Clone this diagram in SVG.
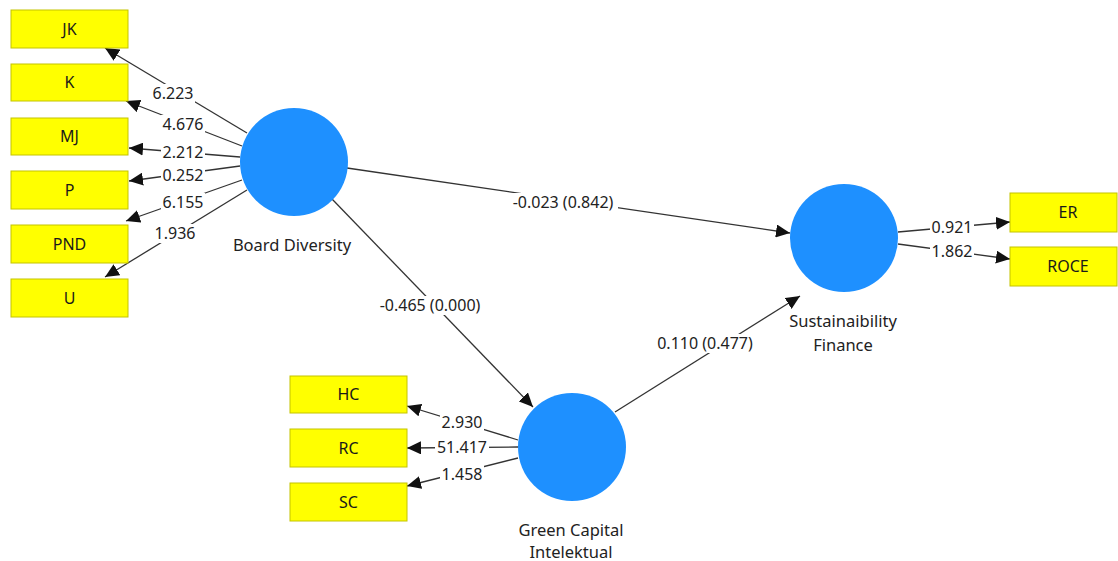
<svg xmlns="http://www.w3.org/2000/svg" width="1118" height="561" viewBox="0 0 1118 561">
<style>
.box{fill:#FFFF00;stroke:#C4C400;stroke-width:1}
.bt{font-family:"Noto Sans","Liberation Sans",sans-serif;font-size:16px;fill:#1a1a1a;text-anchor:middle}
.lv{fill:#1E90FF}
.nl{font-family:"Noto Sans","Liberation Sans",sans-serif;font-size:16.5px;fill:#222;text-anchor:middle}
.c{stroke:#333;stroke-width:1.3;fill:none;marker-end:url(#ah)}
.el{font-family:"Noto Sans","Liberation Sans",sans-serif;font-size:16px;fill:#222;text-anchor:middle}
.bg{fill:#fff}
</style>
<defs>
<marker id="ah" markerUnits="userSpaceOnUse" markerWidth="15" markerHeight="13" refX="14" refY="6.5" orient="auto">
<path d="M0,0 L14,6.5 L0,13 z" fill="#111"/>
</marker>
</defs>
<rect width="1118" height="561" fill="#fff"/>
<g id="connectors">
<path class="c" d="M247,133 L105,48"/>
<path class="c" d="M242,146 L126,101"/>
<path class="c" d="M240,157 L129,148"/>
<path class="c" d="M240,166 L129,181"/>
<path class="c" d="M242,180 L126,221"/>
<path class="c" d="M247,190 L105,277"/>
<path class="c" d="M347,168 L790,233"/>
<path class="c" d="M332,199 L533,407"/>
<path class="c" d="M615,412 L800,296"/>
<path class="c" d="M898,232 L1010,222"/>
<path class="c" d="M898,244 L1010,259"/>
<path class="c" d="M518,440 L407,406"/>
<path class="c" d="M518,447 L407,448"/>
<path class="c" d="M518,458 L407,486"/>
</g>
<g id="edge-labels">
<rect class="bg" x="151" y="84" width="44" height="19"/><text class="el" x="173" y="99">6.223</text>
<rect class="bg" x="161" y="115" width="44" height="18"/><text class="el" x="183" y="130">4.676</text>
<rect class="bg" x="161" y="143" width="44" height="18"/><text class="el" x="183" y="158">2.212</text>
<rect class="bg" x="161" y="166" width="44" height="18"/><text class="el" x="183" y="181">0.252</text>
<rect class="bg" x="161" y="193" width="44" height="18"/><text class="el" x="183" y="208">6.155</text>
<rect class="bg" x="153" y="224" width="44" height="19"/><text class="el" x="175" y="239">1.936</text>
<rect class="bg" x="508" y="193" width="110" height="19"/><text class="el" x="563" y="208">-0.023 (0.842)</text>
<rect class="bg" x="375" y="296" width="110" height="19"/><text class="el" x="430" y="311">-0.465 (0.000)</text>
<rect class="bg" x="653" y="334" width="104" height="19"/><text class="el" x="705" y="349">0.110 (0.477)</text>
<rect class="bg" x="930" y="218" width="44" height="18"/><text class="el" x="952" y="233">0.921</text>
<rect class="bg" x="930" y="242" width="44" height="18"/><text class="el" x="952" y="257">1.862</text>
<rect class="bg" x="440" y="413" width="44" height="18"/><text class="el" x="462" y="428">2.930</text>
<rect class="bg" x="435" y="438" width="54" height="18"/><text class="el" x="462" y="453">51.417</text>
<rect class="bg" x="440" y="465" width="44" height="18"/><text class="el" x="462" y="480">1.458</text>
</g>
<g id="node-BD"><circle class="lv" cx="294" cy="162" r="54"/><text class="nl" x="292" y="251">Board Diversity</text></g>
<g id="node-SF"><circle class="lv" cx="844" cy="238" r="54"/><text class="nl" x="843" y="327">Sustainaibility</text><text class="nl" x="843" y="351">Finance</text></g>
<g id="node-GCI"><circle class="lv" cx="572" cy="447" r="54"/><text class="nl" x="571" y="536">Green Capital</text><text class="nl" x="571" y="558">Intelektual</text></g>
<g id="node-JK"><rect class="box" x="11" y="10" width="117" height="38"/><text class="bt" x="69.5" y="35">JK</text></g>
<g id="node-K"><rect class="box" x="11" y="64" width="117" height="37"/><text class="bt" x="69.5" y="88">K</text></g>
<g id="node-MJ"><rect class="box" x="11" y="118" width="117" height="37"/><text class="bt" x="69.5" y="142">MJ</text></g>
<g id="node-P"><rect class="box" x="11" y="171" width="117" height="38"/><text class="bt" x="69.5" y="196">P</text></g>
<g id="node-PND"><rect class="box" x="11" y="225" width="117" height="38"/><text class="bt" x="69.5" y="250">PND</text></g>
<g id="node-U"><rect class="box" x="11" y="279" width="117" height="38"/><text class="bt" x="69.5" y="304">U</text></g>
<g id="node-HC"><rect class="box" x="290" y="376" width="117" height="37"/><text class="bt" x="348.5" y="400">HC</text></g>
<g id="node-RC"><rect class="box" x="290" y="429" width="117" height="38"/><text class="bt" x="348.5" y="454">RC</text></g>
<g id="node-SC"><rect class="box" x="290" y="483" width="117" height="38"/><text class="bt" x="348.5" y="508">SC</text></g>
<g id="node-ER"><rect class="box" x="1010" y="193" width="107" height="39"/><text class="bt" x="1068" y="218">ER</text></g>
<g id="node-ROCE"><rect class="box" x="1010" y="247" width="107" height="39"/><text class="bt" x="1068" y="272">ROCE</text></g>
</svg>
